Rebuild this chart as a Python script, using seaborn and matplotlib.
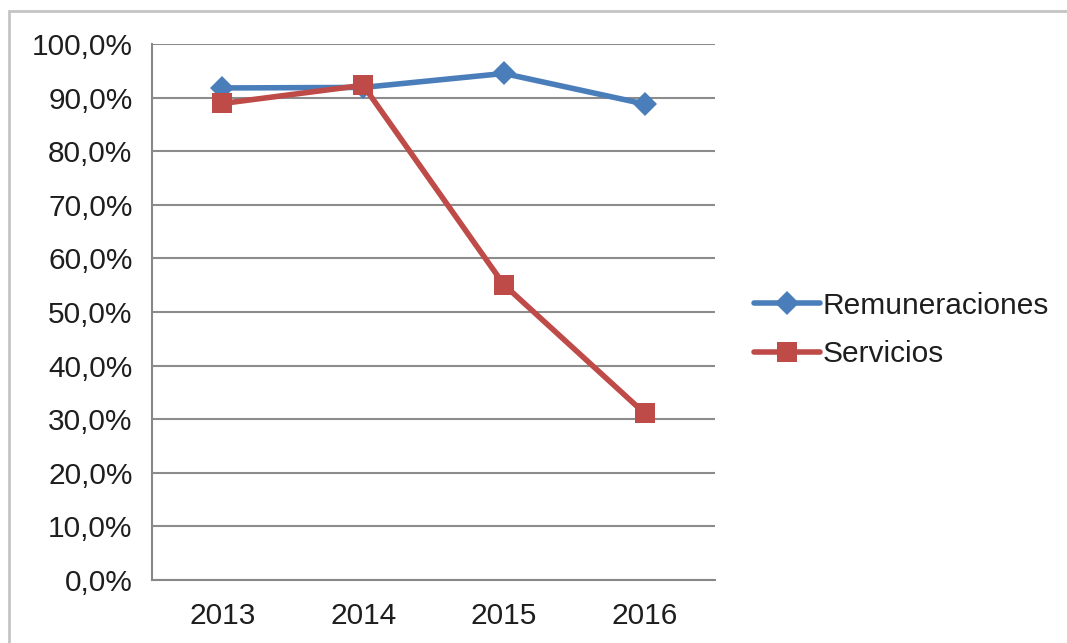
import matplotlib
matplotlib.use("Agg")
import matplotlib.pyplot as plt
from matplotlib.patches import Rectangle
from matplotlib.lines import Line2D
from matplotlib.ticker import FixedLocator, FuncFormatter
import seaborn as sns
import pandas as pd

years = ["2013", "2014", "2015", "2016"]
remuneraciones = [91.8, 91.9, 94.5, 88.8]
servicios = [88.9, 92.3, 55.1, 31.1]
y_ticks = [0, 10, 20, 30, 40, 50, 60, 70, 80, 90, 100]

blue = "#4A7EBB"
red = "#BE4B48"
text_color = "#1e1e1e"
font_size = 21.5

sns.set_theme(style="white")
plt.rcParams["font.family"] = ["Liberation Sans", "DejaVu Sans"]

df = pd.DataFrame({
    "pos": list(range(len(years))) * 2,
    "valor": remuneraciones + servicios,
    "serie": ["Remuneraciones"] * len(years) + ["Servicios"] * len(years),
})

fig = plt.figure(figsize=(10.67, 6.43), dpi=100)
ax = fig.add_axes([152 / 1067, 63 / 643, (715 - 152) / 1067, (580 - 44) / 643])

sns.lineplot(data=df, x="pos", y="valor", hue="serie", style="serie",
             palette={"Remuneraciones": blue, "Servicios": red},
             markers={"Remuneraciones": "D", "Servicios": "s"},
             dashes=False, linewidth=4.0, markersize=12, markeredgewidth=0,
             legend=False, ax=ax)
# marker sizes per series
for ln in ax.get_lines():
    if ln.get_marker() == "s":
        ln.set_markersize(15)
    elif ln.get_marker() == "D":
        ln.set_markersize(12)

ax.set_xlim(-0.5, len(years) - 0.5)
ax.set_ylim(0, 100)
ax.set_xlabel("")
ax.set_ylabel("")

ax.yaxis.set_major_locator(FixedLocator(y_ticks))
ax.yaxis.set_major_formatter(FuncFormatter(lambda v, p: f"{v:.1f}%".replace(".", ",")))
ax.set_xticks(range(len(years)))
ax.set_xticklabels(years)
ax.set_xticks([i - 0.5 for i in range(len(years) + 1)], minor=True)
ax.tick_params(axis="x", which="major", length=0, labelsize=font_size, pad=16,
               labelcolor=text_color)
ax.tick_params(axis="x", which="minor", length=8, width=1.5, color="#888888", direction="out")
ax.tick_params(axis="y", which="major", length=8, width=1.5, color="#888888",
               direction="out", labelsize=font_size, pad=6, labelcolor=text_color)

ax.grid(axis="y", color="#8c8c8c", linewidth=1.5)
ax.set_axisbelow(True)
for side in ["top", "right"]:
    ax.spines[side].set_visible(False)
for side in ["left", "bottom"]:
    ax.spines[side].set_color("#888888")
    ax.spines[side].set_linewidth(1.5)

handles = [
    Line2D([0], [0], color=blue, lw=4.0, marker="D", markersize=12, markeredgewidth=0),
    Line2D([0], [0], color=red, lw=4.0, marker="s", markersize=15, markeredgewidth=0),
]
fig.legend(handles, ["Remuneraciones", "Servicios"], loc="center left",
           bbox_to_anchor=(754 / 1067, 1 - 330 / 643), frameon=False,
           fontsize=font_size, handlelength=2.2, handletextpad=0.1, labelspacing=0.68,
           labelcolor=text_color, borderaxespad=0, borderpad=0)

fig.patches.append(Rectangle((9 / 1067, -0.05), 1.2, 1 - 11 / 643 + 0.05,
                             transform=fig.transFigure, fill=False,
                             edgecolor="#c4c4c4", linewidth=2.0))

fig.savefig("out.png", dpi=100)
